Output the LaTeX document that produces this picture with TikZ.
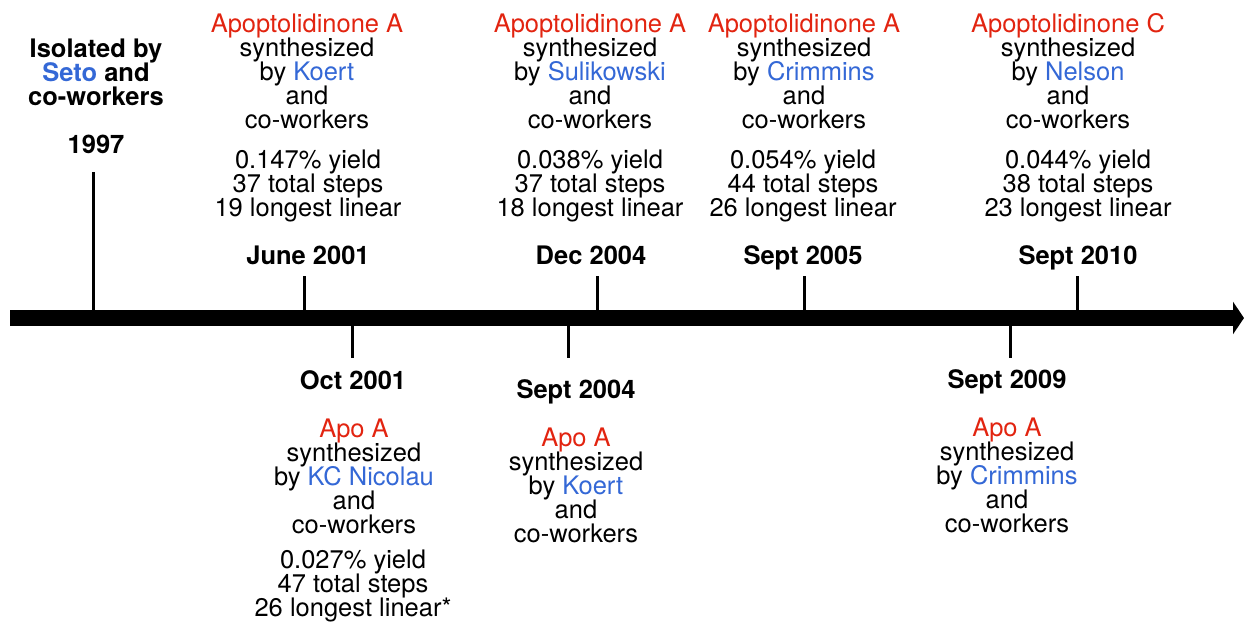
\documentclass[tikz,border=0pt]{standalone}
\usepackage{fontspec}
\setmainfont{TeX Gyre Heros}
\usetikzlibrary{arrows.meta}
\definecolor{apored}{RGB}{226,36,16}
\definecolor{apoblue}{RGB}{52,104,214}
\newcommand{\cmpd}[1]{\textcolor{apored}{#1}}
\newcommand{\grp}[1]{\textcolor{apoblue}{#1}}
\setlength{\lineskiplimit}{-20pt}

\begin{document}
\begin{tikzpicture}[x=1pt, y=-1pt,
  every node/.style={inner sep=0pt, anchor=base, align=center,
    font=\fontsize{25.5}{24}\selectfont},
  datelbl/.style={font=\fontsize{25.5}{24}\selectfont\bfseries},
  tick/.style={line width=3pt}]
  \useasboundingbox (0,0) rectangle (1244,622);

  % time axis
  \coordinate (axstart) at (10,318);
  \coordinate (axend) at (1244,318);
  \draw[line width=16pt, -{Triangle[length=11pt,width=32pt]}] (axstart) -- (axend);

  % ticks (above and below)
  \foreach \name/\x/\y in {t97/93/172, tjun01/304/276, tdec04/597/276,
      tsep05/804/276, tsep10/1077/276, toct01/352/358, tsep04/568/358, tsep09/1010/358} {
    \coordinate (\name-a) at (\x,318);
    \coordinate (\name-b) at (\x,\y);
    \draw[tick] (\name-a) -- (\name-b);
  }

  % isolation (base = last line)
  \node[datelbl] (seto) at (96,105.5) {Isolated by\\\grp{Seto} and\\co-workers};
  \node[datelbl] (d97) at (96,153) {1997};

  % syntheses above the axis
  \node (koert1) at (307,128) {\cmpd{Apoptolidinone A}\\synthesized\\by \grp{Koert}\\and\\co-workers};
  \node (stats1) at (308,216.5) {0.147\% yield\\37 total steps\\19 longest linear};
  \node[datelbl] (djun01) at (308,264) {June 2001};

  \node (suli) at (590,128) {\cmpd{Apoptolidinone A}\\synthesized\\by \grp{Sulikowski}\\and\\co-workers};
  \node (stats2) at (590,216.5) {0.038\% yield\\37 total steps\\18 longest linear};
  \node[datelbl] (ddec04) at (591,264) {Dec 2004};

  \node (crim1) at (804,128) {\cmpd{Apoptolidinone A}\\synthesized\\by \grp{Crimmins}\\and\\co-workers};
  \node (stats3) at (803,216.5) {0.054\% yield\\44 total steps\\26 longest linear};
  \node[datelbl] (dsep05) at (803,264) {Sept 2005};

  \node (nelson) at (1068,128) {\cmpd{Apoptolidinone C}\\synthesized\\by \grp{Nelson}\\and\\co-workers};
  \node (stats4) at (1078,216.5) {0.044\% yield\\38 total steps\\23 longest linear};
  \node[datelbl] (dsep10) at (1078,264) {Sept 2010};

  % syntheses below the axis
  \node[datelbl] (doct01) at (353,389) {Oct 2001};
  \node (nicolau) at (354,533) {\cmpd{Apo A}\\synthesized\\by \grp{KC Nicolau}\\and\\co-workers};
  \node (stats5) at (353,616.5) {0.027\% yield\\47 total steps\\26 longest linear*};

  \node[datelbl] (dsep04) at (576,398) {Sept 2004};
  \node (koert2) at (576,542) {\cmpd{Apo A}\\synthesized\\by \grp{Koert}\\and\\co-workers};

  \node[datelbl] (dsep09) at (1007,388) {Sept 2009};
  \node (crim2) at (1007,532) {\cmpd{Apo A}\\synthesized\\by \grp{Crimmins}\\and\\co-workers};
\end{tikzpicture}
\end{document}
